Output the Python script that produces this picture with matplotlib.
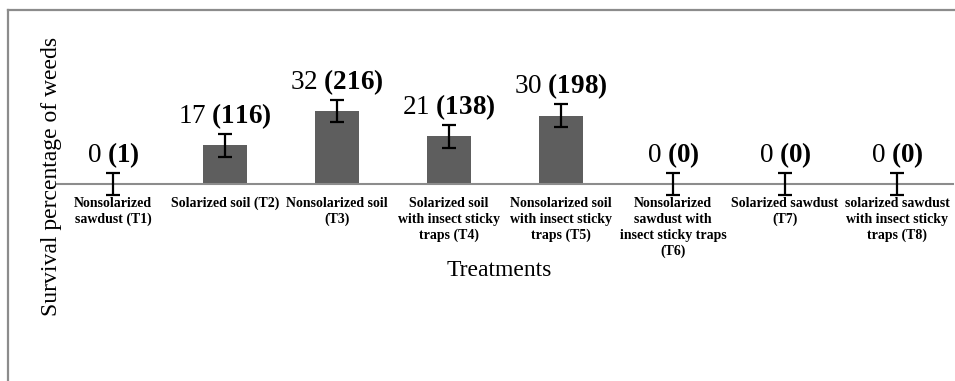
import matplotlib
matplotlib.use("Agg")
import matplotlib.pyplot as plt
from matplotlib.lines import Line2D
import numpy as np

plt.rcParams['font.family'] = ['Liberation Serif', 'DejaVu Serif']
plt.rcParams['mathtext.fontset'] = 'custom'
plt.rcParams['mathtext.rm'] = 'Liberation Serif'
plt.rcParams['mathtext.bf'] = 'Liberation Serif:bold'

# data
treatments = [
    "Nonsolarized\nsawdust (T1)",
    "Solarized soil (T2)",
    "Nonsolarized soil\n(T3)",
    "Solarized soil\nwith insect sticky\ntraps (T4)",
    "Nonsolarized soil\nwith insect sticky\ntraps (T5)",
    "Nonsolarized\nsawdust with\ninsect sticky traps\n(T6)",
    "Solarized sawdust\n(T7)",
    "solarized sawdust\nwith insect sticky\ntraps (T8)",
]
survival_pct = [0, 17, 32, 21, 30, 0, 0, 0]
weed_counts = [1, 116, 216, 138, 198, 0, 0, 0]
errors = [5, 5, 5, 5, 5, 5, 5, 5]

fig = plt.figure(figsize=(9.55, 3.81), dpi=100)
ax = fig.add_axes([57 / 955, 0.481, 896 / 955, 0.419])

x = np.arange(len(treatments))
ax.bar(x, survival_pct, width=0.4, color='#5e5e5e', zorder=2)
ax.errorbar(x, survival_pct, yerr=errors, fmt='none', ecolor='black',
            elinewidth=1.6, capsize=5, capthick=1.6, zorder=3, clip_on=False)

for xi, p, n, e in zip(x, survival_pct, weed_counts, errors):
    ax.annotate(f"{p} $\\mathbf{{({n})}}$", (xi, p + e), xytext=(0, 2),
                textcoords='offset points', ha='center', va='bottom',
                fontsize=19.5)

ax.set_xlim(-0.5, len(treatments) - 0.5)
ax.set_ylim(-6, 64)
for s in ['top', 'left', 'right']:
    ax.spines[s].set_visible(False)
ax.spines['bottom'].set_position(('data', 0))
ax.spines['bottom'].set_color('#8c8c8c')
ax.spines['bottom'].set_linewidth(1.5)
ax.set_yticks([])
ax.set_xticks(x, treatments, fontsize=10, fontweight='bold', linespacing=1.3)
ax.tick_params(axis='x', length=0, pad=9)

fig.text(52 / 955, 1 - 176 / 381, "Survival percentage of weeds", rotation=90,
         ha='center', va='center', fontsize=17)
fig.text(499 / 955, 1 - 271 / 381, "Treatments", ha='center', va='center',
         fontsize=17)

# outer frame (top and left edges visible)
fig.add_artist(Line2D([8 / 955, 1], [1 - 10 / 381] * 2, color='#8c8c8c', lw=1.6))
fig.add_artist(Line2D([8 / 955] * 2, [0, 1 - 10 / 381], color='#8c8c8c', lw=1.6))

fig.savefig("out.png", dpi=100)
